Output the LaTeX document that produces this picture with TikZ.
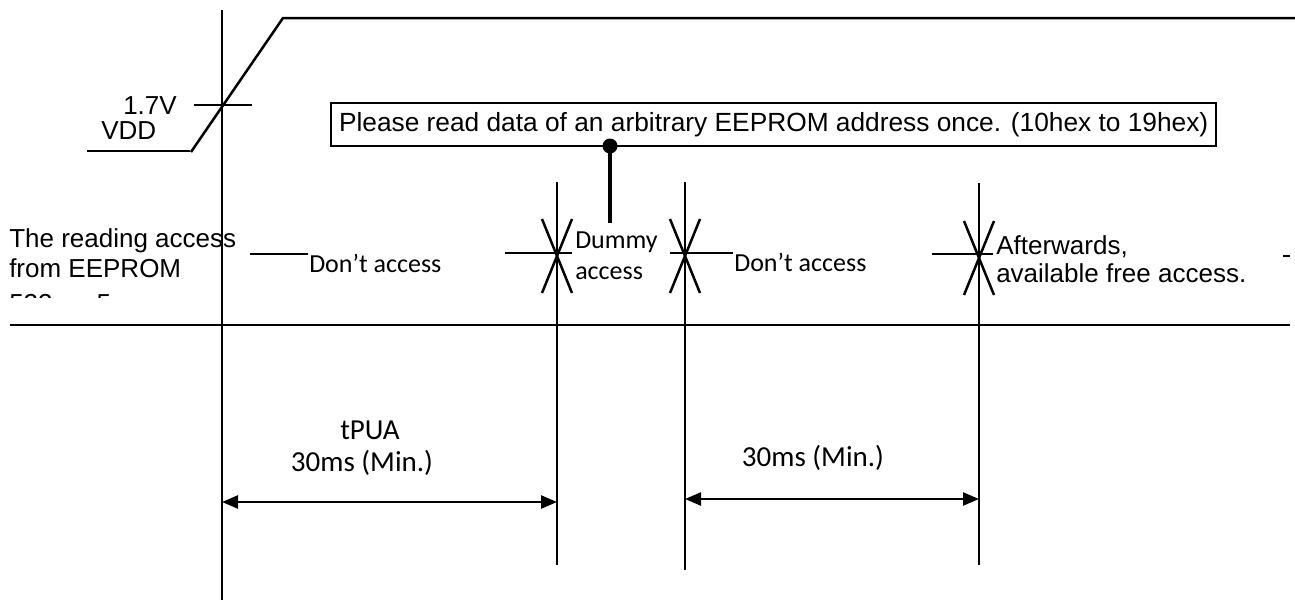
\documentclass[tikz,border=0pt]{standalone}
\usepackage{fontspec}
\setmainfont{Liberation Sans}
\newfontfamily\calfont{Carlito}
\usetikzlibrary{arrows.meta}
\begin{document}
\begin{tikzpicture}[x=1pt,y=-1pt, line width=2.5pt,
  ar/.style={font=\fontsize{26}{30}\selectfont, inner sep=0pt},
  ca/.style={font=\calfont\fontsize{26}{30}\selectfont, inner sep=0pt},
  cb/.style={font=\calfont\fontsize{29}{32}\selectfont, inner sep=0pt},
  dimarrow/.style={{Triangle[length=16pt,width=13pt]}-{Triangle[length=16pt,width=13pt]}},
]
\useasboundingbox (0,0) rectangle (1295,600);

% main vertical lines
\coordinate (a1) at (222,10);  \coordinate (a2) at (222,600);
\coordinate (b1) at (557,182); \coordinate (b2) at (557,565);
\coordinate (c1) at (685,182); \coordinate (c2) at (685,570);
\coordinate (d1) at (979,183); \coordinate (d2) at (979,565);
\draw (a1) -- (a2);
\draw (b1) -- (b2);
\draw (c1) -- (c2);
\draw (d1) -- (d2);

% VDD waveform
\coordinate (v0) at (87,151);
\coordinate (v1) at (190,151);
\coordinate (v1b) at (191,152);
\coordinate (v2) at (283,18);
\coordinate (v3) at (1295,18);
\draw (v0) -- (v1);
\draw (v1b) -- (v2) -- (v3);
\coordinate (t0) at (194,105); \coordinate (t1) at (252,105);
\draw (t0) -- (t1);
\node[ar, anchor=east] (v17) at (178,106) {1.7V};
\node[ar, anchor=west] (vdd) at (100,131) {VDD};

% note box
\node[ar, draw, line width=2pt, anchor=west, inner xsep=8pt, minimum height=43pt,
      font=\fontsize{26.3}{30}\selectfont] (box) at (330,124.5)
  {Please read data of an arbitrary EEPROM address once. (10hex to 19hex)};
\coordinate (dot) at (610,146);
\coordinate (stem) at (610,223);
\draw[line width=4pt] (dot) -- (stem);
\fill (dot) circle (7.5pt);

% left label
\node[ar, anchor=west, align=left] (lbl) at (8,253) {The reading access\\from EEPROM};
\begin{scope}
  \clip (0,280) rectangle (200,297);
  \node[ar, anchor=base west] (lbl3) at (8,312) {522\hspace{44pt}5};
\end{scope}

% signal line
\coordinate (s1a) at (250,254); \coordinate (s1b) at (308,254);
\draw (s1a) -- (s1b);
\node[ca, anchor=west] (da1) at (308,263) {Don’t access};
\coordinate (s2a) at (505,253); \coordinate (s2b) at (572,253);
\draw (s2a) -- (s2b);
\node[ca, anchor=west] (dm1) at (574,242) {Dummy};
\node[ca, anchor=west] (dm2) at (574,273) {access};
\coordinate (s3a) at (670,253); \coordinate (s3b) at (733,253);
\draw (s3a) -- (s3b);
\node[ca, anchor=west] (da2) at (733,262) {Don’t access};
\coordinate (s4a) at (932,254); \coordinate (s4b) at (993,254);
\draw (s4a) -- (s4b);
\node[ar, anchor=west] (af1) at (995,247) {Afterwards,};
\node[ar, anchor=west] (af2) at (995,273) {available free access.};
\coordinate (s5a) at (1283,256); \coordinate (s5b) at (1290,256);
\draw (s5a) -- (s5b);

% cross marks
\foreach \n/\cx/\cy in {x1/557/256, x2/685/256, x3/979/258}{
  \coordinate (\n) at (\cx,\cy);
  \draw ([shift={(-15,-37)}]\n) -- ([shift={(15,37)}]\n);
  \draw ([shift={(15,-37)}]\n) -- ([shift={(-15,37)}]\n);
}

% lower horizontal
\coordinate (h1) at (10,325); \coordinate (h2) at (1290,325);
\draw (h1) -- (h2);

% timing dimensions
\node[cb] (tpua) at (370,430) {tPUA};
\node[cb] (m1) at (362,463) {30ms (Min.)};
\node[cb] (m2) at (813,458) {30ms (Min.)};
\coordinate (p1) at (222,502); \coordinate (p2) at (557,502);
\coordinate (q1) at (685,499); \coordinate (q2) at (979,499);
\draw[dimarrow] (p1) -- (p2);
\draw[dimarrow] (q1) -- (q2);
\end{tikzpicture}
\end{document}
